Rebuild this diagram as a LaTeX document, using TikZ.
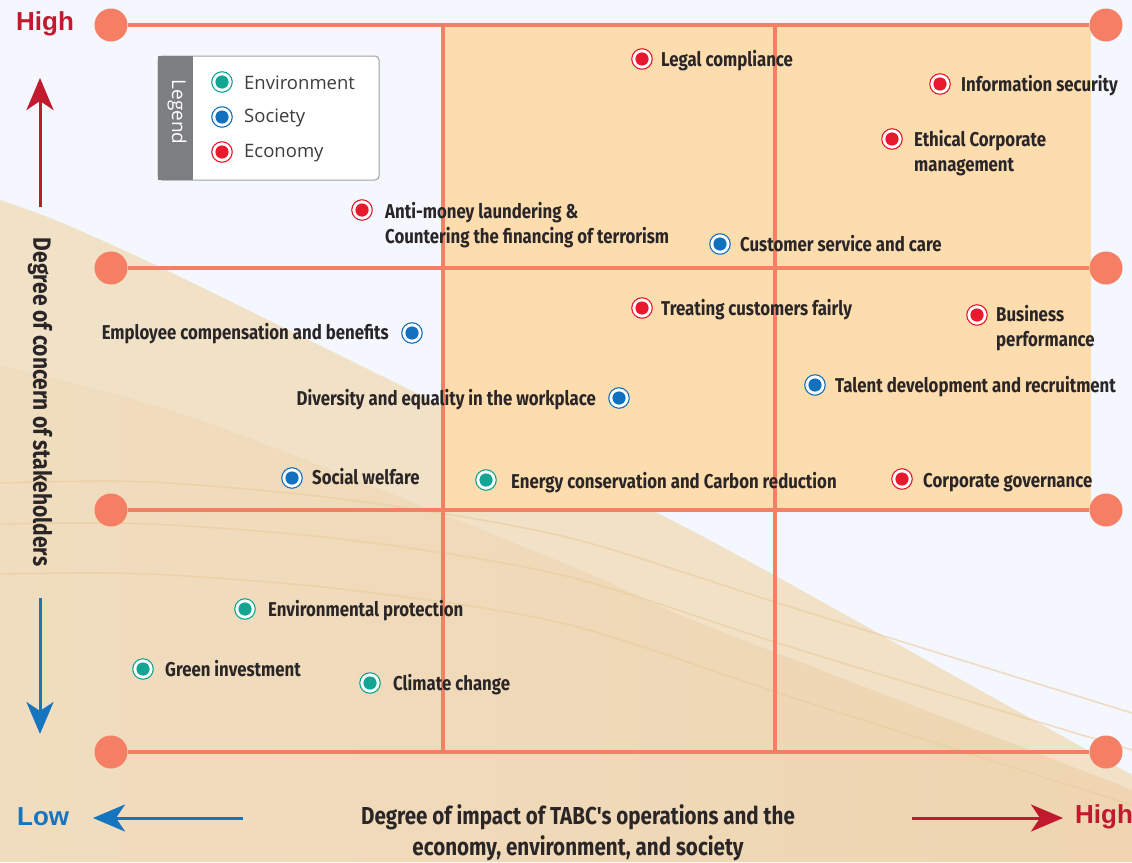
\documentclass[tikz,border=0pt]{standalone}
\usepackage{fontspec}
\setmainfont{Fira Sans}
\newfontfamily\labfont[FakeStretch=0.84]{Fira Sans}
\newfontfamily\legfont{Open Sans}
\newfontfamily\axfont{Liberation Sans}
\usetikzlibrary{arrows.meta}

\definecolor{bgblue}{HTML}{F4F7FE}
\definecolor{sand}{HTML}{F1E1C6}
\definecolor{sandleft}{HTML}{F0DDBF}
\definecolor{sandright}{HTML}{EFD5B1}
\definecolor{sandline}{HTML}{EBCB9C}
\definecolor{quad}{HTML}{FDDCAE}
\definecolor{gridc}{HTML}{F47F64}
\definecolor{env}{HTML}{12A594}
\definecolor{soc}{HTML}{1271BE}
\definecolor{eco}{HTML}{E8192C}
\definecolor{hired}{HTML}{C1192D}
\definecolor{lowblue}{HTML}{1774BF}
\definecolor{txt}{HTML}{2A2627}
\definecolor{leggray}{HTML}{7D7E82}
\definecolor{legborder}{HTML}{A0A0A0}

\tikzset{
  gridline/.style={gridc, line width=4pt},
  gridend/.style={circle, fill=gridc, minimum size=33pt, inner sep=0pt},
  issuemark/.style={circle, draw=#1, line width=1.1pt, fill=white,
    minimum size=20.5pt, inner sep=0pt,
    path picture={\fill[#1] (path picture bounding box.center) circle (6.6pt);}},
  lab/.style={font=\labfont\bfseries\fontsize{20}{25}\selectfont, text=txt,
    inner sep=0pt, anchor=base west, align=left},
  labr/.style={lab, anchor=base east, align=right},
  axtitle/.style={font=\labfont\bfseries\fontsize{25}{31}\selectfont, text=txt,
    inner sep=0pt, align=center},
  legtext/.style={font=\legfont\fontsize{18.5}{21}\selectfont, text=txt!90,
    inner sep=0pt, anchor=west},
  endword/.style={font=\axfont\bfseries\fontsize{26}{28}\selectfont, inner sep=0pt, anchor=west},
  bigarrow/.style={line width=3pt, -{Stealth[length=32pt,width=27pt,inset=9pt]}},
  thincurve/.style={sandline, line width=1.6pt, opacity=0.6}
}

\begin{document}
\begin{tikzpicture}[x=1pt,y=-1pt]
\useasboundingbox (0,0) rectangle (1132,862);
\fill[bgblue] (0,0) rectangle (1132,862);

% sandy hill in the background
\fill[sand] plot[smooth] coordinates {(0,200) (60,222) (170,272) (410,390) (700,535) (967,683) (1132,775)}
  -- (1132,862) -- (0,862) -- cycle;
\shade[left color=sandleft, right color=sandright]
  plot[smooth] coordinates {(0,365) (200,420) (566,564) (700,623) (1073,767) (1132,790)}
  -- (1132,862) -- (0,862) -- cycle;
\draw[thincurve] plot[smooth] coordinates {(0,483) (150,482) (350,500) (566,537) (800,610) (1132,713)};
\draw[thincurve] plot[smooth] coordinates {(0,524) (150,524) (350,540) (566,576) (800,650) (1132,750)};
\draw[thincurve] plot[smooth] coordinates {(0,574) (150,574) (350,590) (566,624) (800,700) (1132,805)};

% material quadrant
\fill[quad] (443,25) rectangle (1091,510);

% grid
\node[gridend] (l1) at (111,25) {};
\node[gridend] (r1) at (1106,25) {};
\node[gridend] (l2) at (111,268) {};
\node[gridend] (r2) at (1106,268) {};
\node[gridend] (l3) at (111,510) {};
\node[gridend] (r3) at (1106,510) {};
\node[gridend] (l4) at (111,752) {};
\node[gridend] (r4) at (1106,752) {};
\coordinate (v1t) at (443,25);
\coordinate (v1b) at (443,754);
\coordinate (v2t) at (775,25);
\coordinate (v2b) at (775,754);
\draw[gridline] (v1t) -- (v1b);
\draw[gridline] (v2t) -- (v2b);
\draw[gridline] (l1) -- (r1);
\draw[gridline] (l2) -- (r2);
\draw[gridline] (l3) -- (r3);
\draw[gridline] (l4) -- (r4);

% legend
\fill[white, draw=legborder, line width=1pt, rounded corners=4pt] (158,56) rectangle (379,180);
\fill[leggray] (158,56) rectangle (193,180);
\node[font=\legfont\fontsize{19}{21}\selectfont, text=white, rotate=-90, inner sep=0pt] (legtitle) at (177,112) {Legend};
\node[issuemark=env] (lg1) at (222,82) {};
\node[issuemark=soc] (lg2) at (222,117) {};
\node[issuemark=eco] (lg3) at (222,152) {};
\node[legtext] (lt1) at (244,83) {Environment};
\node[legtext] (lt2) at (244,118) {Society};
\node[legtext] (lt3) at (244,153) {Economy};

% issues
\node[issuemark=eco] (m1) at (642,59) {};
\node[lab] (t1) at (661,66) {Legal compliance};
\node[issuemark=eco] (m2) at (940,84) {};
\node[lab] (t2) at (961,91) {Information security};
\node[issuemark=eco] (m3) at (892,139) {};
\node[lab] (t3) at (914,171) {Ethical Corporate\\management};
\node[issuemark=eco] (m4) at (362,210) {};
\node[lab] (t4) at (385,243) {Anti-money laundering \&\\Countering the financing of terrorism};
\node[issuemark=soc] (m5) at (720,244) {};
\node[lab] (t5) at (740,251) {Customer service and care};
\node[issuemark=eco] (m6) at (642,308) {};
\node[lab] (t6) at (661,315) {Treating customers fairly};
\node[issuemark=eco] (m7) at (977,315) {};
\node[lab] (t7) at (996,346) {Business\\performance};
\node[issuemark=soc] (m8) at (412,333) {};
\node[labr] (t8) at (389,339) {Employee compensation and benefits};
\node[issuemark=soc] (m9) at (619,398) {};
\node[labr] (t9) at (596,405) {Diversity and equality in the workplace};
\node[issuemark=soc] (m10) at (815,385) {};
\node[lab] (t10) at (835,392) {Talent development and recruitment};
\node[issuemark=soc] (m11) at (292,478) {};
\node[lab] (t11) at (312,484) {Social welfare};
\node[issuemark=env] (m12) at (486,480) {};
\node[lab] (t12) at (511,488) {Energy conservation and Carbon reduction};
\node[issuemark=eco] (m13) at (902,479) {};
\node[lab] (t13) at (923,487) {Corporate governance};
\node[issuemark=env] (m14) at (245,609) {};
\node[lab] (t14) at (268,616) {Environmental protection};
\node[issuemark=env] (m15) at (143,669) {};
\node[lab] (t15) at (165,676) {Green investment};
\node[issuemark=env] (m16) at (370,683) {};
\node[lab] (t16) at (393,690) {Climate change};

% vertical axis
\node[endword, text=hired] (yhigh) at (16,24) {High};
\coordinate (yup0) at (40,207);
\coordinate (yup1) at (40,78);
\draw[bigarrow, hired] (yup0) -- (yup1);
\node[axtitle, rotate=-90] (ytitle) at (40,402) {Degree of concern of stakeholders};
\coordinate (ydn0) at (40,598);
\coordinate (ydn1) at (40,734);
\draw[bigarrow, lowblue] (ydn0) -- (ydn1);

% horizontal axis
\node[endword, text=lowblue] (xlow) at (17,817) {Low};
\coordinate (xl0) at (243,818);
\coordinate (xl1) at (93,818);
\draw[bigarrow, lowblue] (xl0) -- (xl1);
\node[axtitle, font=\labfont\bfseries\fontsize{24.5}{31}\selectfont] (xtitle) at (578,833) {Degree of impact of TABC's operations and the\\economy, environment, and society};
\coordinate (xr0) at (912,818);
\coordinate (xr1) at (1063,818);
\draw[bigarrow, hired] (xr0) -- (xr1);
\node[endword, text=hired] (xhigh) at (1075,817) {High};
\end{tikzpicture}
\end{document}
